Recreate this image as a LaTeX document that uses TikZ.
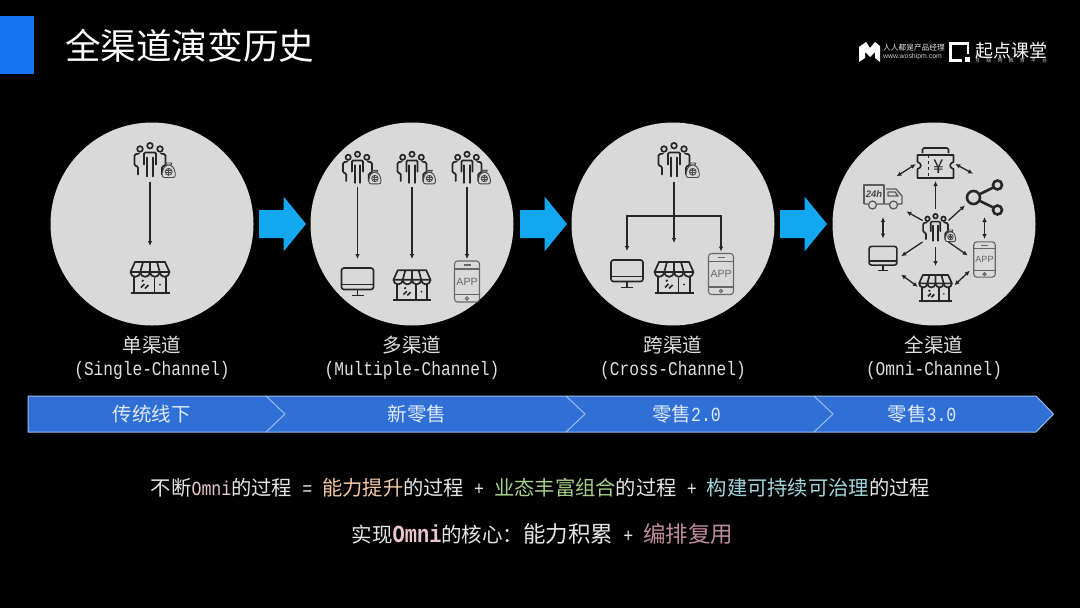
\documentclass[tikz,border=0pt]{standalone}
\usepackage{fontspec}
\usepackage{tikz}
\usetikzlibrary{positioning,calc,arrows.meta}
\newfontfamily\cjk{Noto Sans CJK SC}
\newfontfamily\mono[FakeStretch=0.83]{Liberation Mono}
\setsansfont{Liberation Sans}
\newcommand{\fs}[1]{\fontsize{#1}{#1}\selectfont}
\definecolor{disc}{HTML}{D9D9D9}
\definecolor{ink}{HTML}{262626}
\definecolor{sky}{HTML}{12A7EE}
\definecolor{headblue}{HTML}{1673F2}
\definecolor{tag}{HTML}{2F6FD6}
\definecolor{tagline}{HTML}{9CBDEB}
\definecolor{peach}{HTML}{F2C9A4}
\definecolor{leaf}{HTML}{A6CF8C}
\definecolor{teal}{HTML}{A2D6DC}
\definecolor{rose}{HTML}{EBC6CE}
\definecolor{mauve}{HTML}{BF8C9A}
\tikzset{
    iconbox/.style args={#1/#2}{inner sep=0pt, outer sep=0pt, minimum width=#1, minimum height=#2},
    flow/.style={-{Latex[length=5pt,width=4.6pt]}, line width=1.3pt, draw=ink},
    both/.style={{Latex[length=5pt,width=4.6pt]}-{Latex[length=5pt,width=4.6pt]}, line width=1.3pt, draw=ink},
    caption/.style={text=white!88!black, align=center, font=\cjk\fs{19.5}},
    sublabel/.style={text=white!88!black, font=\mono\fs{19.5}},
    tagtext/.style={text=white!85!tag, font=\cjk\fs{19.5}},
    people/.pic={
        \begin{scope}[draw=ink, line width=1.7pt, line cap=round, rounded corners=1.2pt]
            \foreach \hx/\hy in {-10/-11.5, 0/-14.8, 10/-11.5}
                \draw (\hx,\hy) circle (2.8);
            \draw (-6,4) -- (-6,-8) -- (6,-8) -- (6,4);
            \draw (-3,16) -- (-3,-3);
            \draw (3,16) -- (3,-3);
            \draw (-11,-7) -- (-15.5,-6) -- (-15.5,5) -- (-12,6) -- (-12,14);
            \draw (11,-7) -- (15.5,-6) -- (15.5,5) -- (12,6) -- (12,14);
        \end{scope}
        \begin{scope}[shift={(18.7,9.5)}, draw=ink!85, line width=.9pt]
            \draw[fill=disc, rounded corners=2pt] (-3,-5) -- (-6.5,1) -- (-6.5,7.5) -- (6.5,7.5) -- (6.5,1) -- (3,-5) -- cycle;
            \draw (-3,-7) -- (3,-7) -- (2.5,-5) -- (-2.5,-5) -- cycle;
            \draw (0,1.8) circle (3.4);
            \draw (-2.4,.6) -- (2.4,.6) (-2.4,2.8) -- (2.4,2.8) (0,-1) -- (0,4.6);
        \end{scope}
    },
    store/.pic={
        \begin{scope}[draw=ink, line width=1.7pt, line join=round]
            \draw (-15,-15.5) -- (15,-15.5) -- (19.5,-5.5) -- (-19.5,-5.5) -- cycle;
            \draw (-7,-15.5) -- (-9.75,-5.5) (0,-15.5) -- (0,-5.5) (7,-15.5) -- (9.75,-5.5);
            \draw (-19.5,-5.5) arc[start angle=180, end angle=0, radius=4.875];
            \draw (-9.75,-5.5) arc[start angle=180, end angle=0, radius=4.875];
            \draw (0,-5.5) arc[start angle=180, end angle=0, radius=4.875];
            \draw (9.75,-5.5) arc[start angle=180, end angle=0, radius=4.875];
            \draw (-16,-1) -- (-16,15.5) (16,-1) -- (16,15.5);
            \draw[line width=2pt] (-19.5,15.7) -- (19.5,15.7);
            \draw (4.5,0) -- (4.5,15.5);
            \draw (-9,10) -- (-5.5,6.5) (-5,11) -- (-1.5,7.5) (-8,4) -- (-6.5,2.5);
            \fill[ink] (10,7) circle (1);
        \end{scope}
    },
    monitor/.pic={
        \begin{scope}[draw=ink, line width=1.6pt]
            \draw[rounded corners=2.5pt] (-16,-14.5) rectangle (16,7);
            \draw (-16,2) -- (16,2);
            \draw (0,7) -- (0,12.5);
            \draw (-6,13) -- (6,13);
        \end{scope}
    },
    phone/.pic={
        \begin{scope}[draw=ink!70, line width=1.1pt]
            \draw[rounded corners=3pt] (-12.5,-20.5) rectangle (12.5,20.5);
            \draw (-12.5,-12.5) -- (12.5,-12.5) (-12.5,13) -- (12.5,13);
            \draw (-3.5,-16.5) -- (3.5,-16.5);
            \draw (0,17) circle (1.6);
            \node[transform shape, inner sep=0pt, text=ink!70, font=\sffamily\fs{10.5}] (-label) at (0,0) {APP};
        \end{scope}
    },
    truck/.pic={
        \begin{scope}[draw=ink!75, line width=1.3pt, line join=round]
            \draw (-19,7) -- (-19,-12) -- (1,-12) -- (1,7);
            \draw (-19,7) -- (-15,7) (-6,7) -- (7,7) (14,7) -- (19,7) -- (19,-1) -- (13,-8) -- (3,-8);
            \draw (5,-5) -- (12,-5) -- (15,-1) -- (5,-1) -- cycle;
            \draw (-10.5,8) circle (4);
            \draw (10.5,8) circle (4);
            \node[inner sep=0pt, text=ink!85, font=\sffamily\bfseries\itshape\fs{9.5}] (-label) at (-9,-3) {24h};
        \end{scope}
    },
    ticket/.pic={
        \begin{scope}[draw=ink, line width=1.6pt, line join=round]
            \draw[rounded corners=1.5pt] (-13,-10) -- (-13,-15) -- (13,-15) -- (13,-10);
            \draw (-18,-8) -- (18,-8) -- (18,-1) .. controls (13.5,0) and (13.5,5) .. (18,6) -- (18,15) -- (-18,15) -- (-18,6) .. controls (-13.5,5) and (-13.5,0) .. (-18,-1) -- cycle;
            \draw[dashed, line width=1.2pt] (-7,-8) -- (-7,15);
            \node[inner sep=0pt, text=ink, font=\cjk\fs{19}] (-label) at (3.5,3.5) {¥};
        \end{scope}
    },
    share/.pic={
        \begin{scope}[draw=ink, line width=2.6pt]
            \draw (-11,0) circle (6.5);
            \draw (13,-12.5) circle (4.5);
            \draw (13,12.5) circle (4.5);
            \draw (-5.5,-3) -- (9.2,-10.2) (-5.5,3) -- (9.2,10.2);
        \end{scope}
    },
}
\begin{document}
\begin{tikzpicture}[x=1pt, y=-1pt]
    \useasboundingbox (0,0) rectangle (1080,608);
    \fill[black] (0,0) rectangle (1080,608);

    % header
    \fill[headblue] (0,16) rectangle (34,74);
    \node[anchor=west, inner sep=0pt, text=white, font=\cjk\fs{35.6}] (title) at (65,46) {全渠道演变历史};

    % logos
    \fill[white] (859,62) -- (859,47) -- (866,42) -- (870,48) -- (875,42) -- (880,46) -- (880,62) -- (875,58) -- (875,52) -- (870,57) -- (865,52) -- (865,58) -- cycle;
    \node[anchor=west, inner sep=0pt, text=white!90!black, font=\cjk\fs{7.7}] (brandA) at (883,48) {人人都是产品经理};
    \node[anchor=west, inner sep=0pt, text=white!80!black, font=\sffamily\fs{6.9}] (siteA) at (883,57) {www.woshipm.com};
    \draw[white, line width=2.6pt] (962,60.5) -- (950.5,60.5) -- (950.5,43.5) -- (968,43.5) -- (968,54);
    \fill[white] (965,57) rectangle (970,62);
    \node[anchor=west, inner sep=0pt, text=white, font=\cjk\fs{18}] (brandB) at (975,50.5) {起点课堂};
    \node[anchor=west, inner sep=0pt, text=white!75!black, font=\cjk\fs{5}, text width=72pt, align=justify] (siteB) at (975,60.5) {互\hfill 联\hfill 网\hfill 教\hfill 育\hfill 平\hfill 台};

    % discs
    \foreach \cx in {152,412,673,934}
        \fill[disc] (\cx,224) circle (101.5);

    % big arrows
    \foreach \ax in {259,520,780}
        \fill[sky] (\ax,210) -- ++(24.5,0) -- ++(0,-13.5) -- ++(22.5,27.5) -- ++(-22.5,27.5) -- ++(0,-13.5) -- ++(-24.5,0) -- cycle;

    % single channel
    \node[iconbox=32pt/35pt] (u1) at (150,160.5) {};
    \node[iconbox=39pt/33pt] (s1) at (150,277.5) {};
    \pic at (u1) {people};
    \pic at (s1) {store};
    \draw[flow, shorten <=3.5pt, shorten >=15pt] (u1.south) -- (s1.north);

    % multiple channel
    \node[iconbox=30pt/32pt] (u2a) at (357.5,168) {};
    \node[iconbox=30pt/32pt] (u2b) at (412,168) {};
    \node[iconbox=30pt/32pt] (u2c) at (467,168) {};
    \node[iconbox=32pt/29pt] (m2) at (357.5,282.5) {};
    \node[iconbox=37pt/34pt] (s2) at (412,285) {};
    \node[iconbox=25pt/41pt] (a2) at (467,281.5) {};
    \foreach \n in {u2a,u2b,u2c}
        \pic[scale=.93] at (\n) {people};
    \pic at (m2) {monitor};
    \pic[scale=.95] at (s2) {store};
    \pic (a2i) at (a2) {phone};
    \draw[flow, shorten <=3pt, shorten >=9pt] (u2a.south) -- (m2.north);
    \draw[flow, shorten <=3pt, shorten >=9pt] (u2b.south) -- (s2.north);
    \draw[flow, shorten <=3pt, shorten >=2pt] (u2c.south) -- (a2.north);

    % cross channel
    \node[iconbox=32pt/35pt] (u3) at (674,160.5) {};
    \node[iconbox=32pt/29pt] (m3) at (627,274.5) {};
    \node[iconbox=38pt/33pt] (s3) at (674,277.5) {};
    \node[iconbox=25pt/41pt] (a3) at (721,274) {};
    \coordinate (b3) at (674,216);
    \pic at (u3) {people};
    \pic at (m3) {monitor};
    \pic at (s3) {store};
    \pic (a3i) at (a3) {phone};
    \draw[flow, shorten <=3.5pt, shorten >=18pt] (u3.south) -- (s3.north);
    \draw[flow, shorten >=9pt] (b3) -| (m3.north);
    \draw[flow, shorten >=2pt] (b3) -| (a3.north);

    % omni channel
    \node[iconbox=26pt/28pt] (u4) at (935.5,228) {};
    \node[iconbox=36pt/30pt] (k4) at (935.5,163) {};
    \node[iconbox=38pt/24pt] (t4) at (883,197) {};
    \node[iconbox=36pt/35pt] (h4) at (984.5,197.5) {};
    \node[iconbox=28pt/25pt] (m4) at (883,259) {};
    \node[iconbox=22pt/35pt] (a4) at (984.5,259.5) {};
    \node[iconbox=32pt/28pt] (s4) at (935.5,288) {};
    \pic[scale=.8] at (u4) {people};
    \pic at (k4) {ticket};
    \pic (t4i) at (t4) {truck};
    \pic at (h4) {share};
    \pic[scale=.87] at (m4) {monitor};
    \pic[scale=.86] (a4i) at (a4) {phone};
    \pic[scale=.84] at (s4) {store};
    \draw[flow, shorten <=5pt, shorten >=3pt] (u4.north) -- (k4.south);
    \draw[flow, shorten >=5pt] (u4.150) -- (t4.south east);
    \draw[flow, shorten >=2pt] (u4.30) -- (h4.200);
    \draw[flow, shorten >=5pt] (u4.south west) -- (m4.east);
    \draw[flow, shorten <=5pt, shorten >=8pt] (u4.south) -- (s4.north);
    \draw[flow, shorten >=7pt] (u4.south east) -- (a4.west);
    \draw[both, shorten <=2pt, shorten >=16pt] (k4.west) -- (t4.north);
    \draw[both, shorten <=2pt, shorten >=13pt] (k4.east) -- (h4.north);
    \draw[both, shorten <=8pt, shorten >=8pt] (t4.south) -- (m4.north);
    \draw[both, shorten <=2pt, shorten >=3pt] (h4.south) -- (a4.north);
    \draw[both, shorten <=5pt, shorten >=2pt] (m4.south east) -- (s4.west);
    \draw[both, shorten <=4pt, shorten >=5pt] (s4.east) -- (a4.215);

    % captions
    \node[caption] (c1) at (152,345) {单渠道};
    \node[caption] (c2) at (412,345) {多渠道};
    \node[caption] (c3) at (673,345) {跨渠道};
    \node[caption] (c4) at (934,345) {全渠道};
    \node[sublabel] (e1) at (152,370) {(Single-Channel)};
    \node[sublabel] (e2) at (412,370) {(Multiple-Channel)};
    \node[sublabel] (e3) at (673,370) {(Cross-Channel)};
    \node[sublabel] (e4) at (934,370) {(Omni-Channel)};

    % timeline band
    \draw[fill=tag, draw=tagline, line width=1pt] (28,396) -- (1036,396) -- (1053.5,414) -- (1036,432) -- (28,432) -- cycle;
    \foreach \tx in {266,566,814}
        \draw[tagline, line width=1pt] (\tx,396) -- ++(19,18) -- ++(-19,18);
    \node[tagtext] (t1) at (151.5,414) {传统线下};
    \node[tagtext] (t2) at (417,414) {新零售};
    \node[tagtext] (t3) at (686.5,414) {零售{\mono\fs{20}2.0}};
    \node[tagtext] (t4b) at (922,414) {零售{\mono\fs{20}3.0}};

    % summary lines
    \node[inner sep=0pt, text=white!90!black, font=\cjk\fs{20.3}] (line1) at (540.5,488) {不断{\mono\fs{20}\color{rose}Omni}的过程{\mono\fs{20}\ =\ }{\color{peach}能力提升}的过程{\mono\fs{20}\ +\ }{\color{leaf}业态丰富组合}的过程{\mono\fs{20}\ +\ }{\color{teal}构建可持续可治理}的过程};
    \node[inner sep=0pt, text=white!90!black, font=\cjk\fs{20.5}] (line2) at (542.5,534) {实现{\mono\fs{24.5}\color{rose}\textbf{Omni}}的核心：{\fs{22.5}能力积累}{\mono\fs{20}\ +\ }{\fs{22.5}\color{mauve}编排复用}};
\end{tikzpicture}
\end{document}
